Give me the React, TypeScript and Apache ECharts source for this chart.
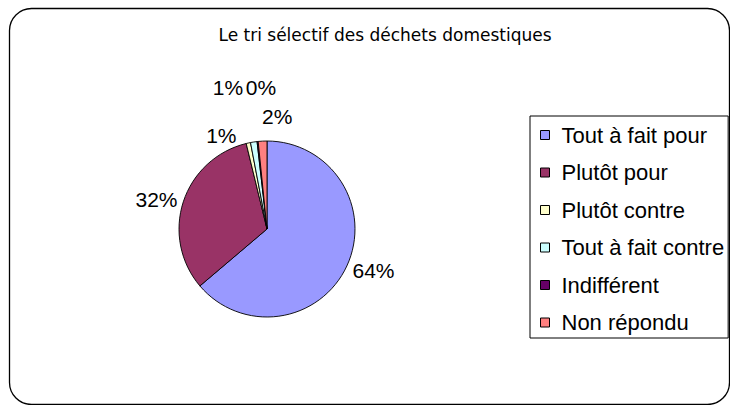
import React, { useEffect, useRef } from "react";
import * as echarts from "echarts";

const titleText = "Le tri sélectif des déchets domestiques";
const categories = [
  "Tout à fait pour",
  "Plutôt pour",
  "Plutôt contre",
  "Tout à fait contre",
  "Indifférent",
  "Non répondu",
];
const values = [63.8, 32.4, 0.8, 1.2, 0.2, 1.6];
const colors = ["#9999FF", "#993366", "#FFFFCC", "#CCFFFF", "#660066", "#FF8080"];

// small label nudges (Excel-like placement of the crowded labels)
const labelNudges: [number, number][] = [
  [-3, 3],
  [3, -1],
  [-6, -4],
  [-5, -51],
  [24, -50],
  [35, -21],
];

export default function App() {
  const ref = useRef<HTMLDivElement>(null);
  useEffect(() => {
    document.body.style.margin = "0";
    const chart = echarts.init(ref.current!, null, { renderer: "svg" });
    const font = "'Liberation Sans', Arial, sans-serif";
    chart.setOption({
      animation: false,
      backgroundColor: "#fff",
      title: {
        text: titleText,
        left: 385,
        textAlign: "center",
        top: 26,
        padding: 0,
        textStyle: {
          fontFamily: "'DejaVu Sans', sans-serif",
          fontSize: 17,
          fontWeight: "normal",
          color: "#000",
        },
      },
      graphic: [
        {
          type: "rect",
          silent: true,
          z: -10,
          shape: { x: 9.5, y: 8.5, width: 720, height: 396, r: 22 },
          style: { fill: "none", stroke: "#000", lineWidth: 1.3 },
        },
      ],
      legend: {
        orient: "vertical",
        left: 530,
        top: 116,
        padding: [8, 4, 4.5, 10],
        itemGap: 15.5,
        itemWidth: 9,
        itemHeight: 9,
        icon: "rect",
        borderColor: "#000",
        borderWidth: 1,
        itemStyle: { borderColor: "#000", borderWidth: 1 },
        textStyle: {
          fontFamily: font,
          fontSize: 22,
          lineHeight: 22,
          color: "#000",
          padding: [0, 0, 0, 7],
        },
        data: categories,
      },
      series: [
        {
          type: "pie",
          center: [267, 229],
          radius: 88,
          startAngle: 90,
          clockwise: true,
          percentPrecision: 0,
          avoidLabelOverlap: false,
          minShowLabelAngle: 0,
          emphasis: { disabled: true },
          itemStyle: { borderColor: "#000", borderWidth: 0.9 },
          label: {
            show: true,
            position: "outside",
            formatter: "{d}%",
            fontFamily: font,
            fontSize: 21,
            color: "#000",
          },
          labelLine: { show: false, length: 4, length2: 0 },
          labelLayout: (params: any) => {
            const n = labelNudges[params.dataIndex] || [0, 0];
            return { dx: n[0], dy: n[1] };
          },
          data: categories.map((name, i) => ({
            name,
            value: values[i],
            itemStyle: { color: colors[i] },
          })),
        },
      ],
    });
    return () => chart.dispose();
  }, []);
  return (
    <div
      ref={ref}
      style={{ position: "absolute", left: 0, top: 0, width: 730, height: 405 }}
    />
  );
}
